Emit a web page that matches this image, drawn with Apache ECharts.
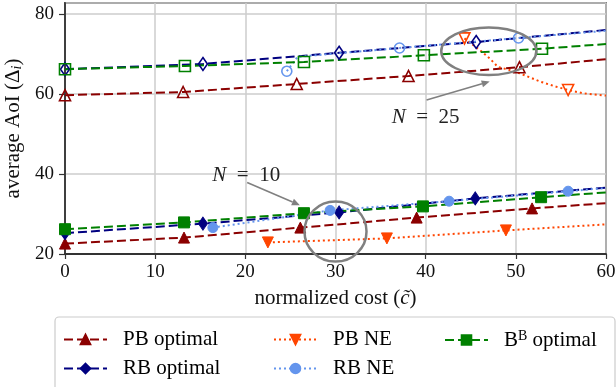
<!DOCTYPE html>
<html>
<head>
<meta charset="utf-8">
<title>average AoI vs normalized cost</title>
<script src="https://cdn.jsdelivr.net/npm/echarts@6/dist/echarts.min.js"></script>
<style>
  html, body { margin: 0; padding: 0; background: #ffffff; }
  #chart { width: 616px; height: 387px; }
</style>
</head>
<body>
<div id="chart"></div>
<script>
// x ticks / y ticks
const xTicks = [0, 10, 20, 30, 40, 50, 60]
const yTicks = [20, 40, 60, 80]

// N = 10 (filled markers). *X/*Y = points with a marker, *LineX/*LineY = points on the line only
const pbOpt10X = [0, 13.2, 26.1, 39.0, 51.8]
const pbOpt10Y = [22.6, 24.1, 26.6, 29.1, 31.4]
const pbOpt10LineX = [60]
const pbOpt10LineY = [32.7]

const rbOpt10X = [0, 15.3, 30.4, 45.5]
const rbOpt10Y = [25.2, 27.6, 30.4, 33.9]
const rbOpt10LineX = [60]
const rbOpt10LineY = [36.6]

const pbNe10X = [22.5, 35.7, 48.9]
const pbNe10Y = [22.9, 23.9, 25.9]
const pbNe10LineX = [60]
const pbNe10LineY = [27.4]

const rbNe10X = [16.4, 29.4, 42.6, 55.8]
const rbNe10Y = [26.6, 30.9, 33.2, 35.7]
const rbNe10LineX = [60]
const rbNe10LineY = [36.5]

const bbOpt10X = [0, 13.2, 26.5, 39.7, 52.8]
const bbOpt10Y = [26.2, 27.9, 30.2, 31.9, 34.2]
const bbOpt10LineX = [60]
const bbOpt10LineY = [35.4]

// N = 25 (hollow markers)
const pbOpt25X = [0, 13.1, 25.7, 38.1, 50.4]
const pbOpt25Y = [59.7, 60.5, 62.5, 64.5, 66.7]
const pbOpt25LineX = [60]
const pbOpt25LineY = [68.7]

const rbOpt25X = [0, 15.3, 30.4, 45.6]
const rbOpt25Y = [66.2, 67.5, 70.3, 73.0]
const rbOpt25LineX = [60]
const rbOpt25LineY = [76.0]

const pbNe25X = [44.3, 55.8]
const pbNe25Y = [73.9, 61.0]
const pbNe25LineX = [46.0, 47.1, 48.0, 49.3, 50.4, 52.7, 54.5, 57.4, 60]
const pbNe25LineY = [71.0, 68.9, 66.8, 66.0, 65.2, 63.1, 61.8, 60.2, 59.6]

const rbNe25X = [24.6, 37.1, 50.3]
const rbNe25Y = [65.7, 71.5, 74.0]
const rbNe25LineX = [25.8, 60]
const rbNe25LineY = [69.3, 75.8]

const bbOpt25X = [0, 13.3, 26.5, 39.8, 52.9]
const bbOpt25Y = [66.2, 67.0, 68.0, 69.7, 71.3]
const bbOpt25LineX = [60]
const bbOpt25LineY = [72.5]

// annotations (data coordinates)
const ringCenterX = [47.0, 30.0]
const ringCenterY = [70.7, 25.6]
const ringRadiusX = [5.27, 3.44]
const ringRadiusY = [5.94, 7.5]
const labelText = ['25', '10']
const labelX = [40.0, 20.1]
const labelY = [54.2, 39.7]
const arrowFrom = [[40.1, 58.5], [20.2, 37.9]]
const arrowTo = [[47.1, 63.1], [26.05, 32.2]]

const FONT = 'Liberation Serif, Times New Roman, serif'
const DASH = [9, 4]
const DOT = [2, 3]

function points(mx, my, lx, ly) {
  const a = mx.map((x, i) => ({ value: [x, my[i]] }))
  const b = lx.map((x, i) => ({ value: [x, ly[i]], symbol: 'none' }))
  return a.concat(b).sort((p, q) => p.value[0] - q.value[0])
}

function line(name, color, symbol, size, dash, filled, data, rotate) {
  return {
    name: name,
    type: 'line',
    data: data,
    symbol: symbol,
    symbolSize: size,
    symbolRotate: rotate || 0,
    showAllSymbol: true,
    animation: false,
    lineStyle: { color: color, width: 2, type: dash },
    itemStyle: filled
      ? { color: color, borderColor: color, borderWidth: 1 }
      : { color: 'rgba(255,255,255,0)', borderColor: color, borderWidth: 1.6 },
    emphasis: { disabled: true },
  }
}

const RED = '#8b0000', NAVY = '#000080', ORANGE = '#ff4500', BLUE = '#6495ed', GREEN = '#008000'

const series = [
  line('PB optimal', RED, 'triangle', 11, DASH, true, points(pbOpt10X, pbOpt10Y, pbOpt10LineX, pbOpt10LineY)),
  line('PB optimal 25', RED, 'triangle', 11, DASH, false, points(pbOpt25X, pbOpt25Y, pbOpt25LineX, pbOpt25LineY)),
  line('RB optimal', NAVY, 'diamond', [9, 13], DASH, true, points(rbOpt10X, rbOpt10Y, rbOpt10LineX, rbOpt10LineY)),
  line('RB optimal 25', NAVY, 'diamond', [9, 13], DASH, false, points(rbOpt25X, rbOpt25Y, rbOpt25LineX, rbOpt25LineY)),
  line('PB NE', ORANGE, 'triangle', 11, DOT, true, points(pbNe10X, pbNe10Y, pbNe10LineX, pbNe10LineY), 180),
  line('PB NE 25', ORANGE, 'triangle', 11, DOT, false, points(pbNe25X, pbNe25Y, pbNe25LineX, pbNe25LineY), 180),
  line('RB NE', BLUE, 'circle', 10, DOT, true, points(rbNe10X, rbNe10Y, rbNe10LineX, rbNe10LineY)),
  line('RB NE 25', BLUE, 'circle', 10, DOT, false, points(rbNe25X, rbNe25Y, rbNe25LineX, rbNe25LineY)),
  line('BB optimal', GREEN, 'rect', 11, DASH, true, points(bbOpt10X, bbOpt10Y, bbOpt10LineX, bbOpt10LineY)),
  line('BB optimal 25', GREEN, 'rect', 11, DASH, false, points(bbOpt25X, bbOpt25Y, bbOpt25LineX, bbOpt25LineY)),
]

const legendText = {
  color: '#000',
  fontFamily: FONT,
  fontSize: 21,
  rich: {
    t: { fontFamily: FONT, fontSize: 21, lineHeight: 22, padding: [0, 0, 0, 11], color: '#000' },
    n: { fontFamily: FONT, fontSize: 21, lineHeight: 22, color: '#000' },
    sup: { fontFamily: FONT, fontSize: 14, lineHeight: 8, verticalAlign: 'top', color: '#000' },
  },
}
function legendFmt(name) {
  if (name === 'BB optimal') return '{t|B}{sup|B}{n| optimal}'
  return '{t|' + name + '}'
}
function legendAt(left, names) {
  return {
    left: left, top: 329, orient: 'vertical', padding: 0,
    itemWidth: 43, itemHeight: 12, itemGap: 8,
    data: names, formatter: legendFmt, textStyle: legendText,
    selectedMode: false,
  }
}

const chart = echarts.init(document.getElementById('chart'), null, { renderer: 'canvas' })

chart.setOption({
  backgroundColor: '#ffffff',
  animation: false,
  grid: { left: 65, right: 10, top: 3, bottom: 133, outerBoundsMode: 'none', containLabel: false,
    show: true, borderColor: '#111', borderWidth: 1.4 },
  legend: [
    legendAt(63, ['PB optimal', 'RB optimal']),
    legendAt(273, ['PB NE', 'RB NE']),
    legendAt(444, ['BB optimal']),
  ],
  xAxis: {
    type: 'value',
    min: xTicks[0], max: xTicks[xTicks.length - 1], interval: xTicks[1] - xTicks[0],
    axisLine: { show: true, lineStyle: { color: '#333', width: 1.8 } },
    axisTick: { show: true, length: 5, lineStyle: { color: '#333', width: 1.2 } },
    axisLabel: { color: '#111', fontFamily: FONT, fontSize: 19, margin: 9 },
    splitLine: { show: true, lineStyle: { color: '#cccccc', width: 1.5 } },
    name: 'normalized cost ({i|c\u0303})',
    nameLocation: 'middle',
    nameGap: 34,
    nameTextStyle: {
      color: '#111', fontFamily: FONT, fontSize: 21,
      rich: { i: { fontFamily: FONT, fontSize: 21, fontStyle: 'italic', color: '#111' } },
    },
  },
  yAxis: {
    type: 'value',
    min: yTicks[0], max: 82.75, interval: yTicks[1] - yTicks[0],
    axisLine: { show: true, lineStyle: { color: '#333', width: 1.8 } },
    axisTick: { show: true, length: 6, lineStyle: { color: '#333', width: 1.2 } },
    axisLabel: { color: '#111', fontFamily: FONT, fontSize: 19, margin: 11, showMaxLabel: false,
      formatter: v => (yTicks.indexOf(v) >= 0 ? String(v) : '') },
    splitLine: { show: true, lineStyle: { color: '#cccccc', width: 1.5 } },
    name: 'average AoI (\u0394{sub|i})',
    nameLocation: 'middle',
    nameGap: 34,
    nameTextStyle: {
      color: '#111', fontFamily: FONT, fontSize: 21,
      rich: { sub: { fontFamily: FONT, fontSize: 14, fontStyle: 'italic', lineHeight: 12, verticalAlign: 'bottom', color: '#111' } },
    },
  },
  series: series,
})

// annotations: rings, arrows and N labels, placed through the grid's scales
function px(p) { return chart.convertToPixel({ gridIndex: 0 }, p) }
const graphics = [
  { type: 'rect', z: 0, shape: { x: 55, y: 317, width: 560, height: 80, r: 4 },
    style: { fill: '#ffffff', stroke: '#cccccc', lineWidth: 1.2 } },
]
ringCenterX.forEach((cx, i) => {
  const c = px([cx, ringCenterY[i]])
  const e = px([cx + ringRadiusX[i], ringCenterY[i] + ringRadiusY[i]])
  graphics.push({ type: 'ellipse', z: 50,
    shape: { cx: c[0], cy: c[1], rx: Math.abs(e[0] - c[0]), ry: Math.abs(e[1] - c[1]) },
    style: { fill: 'none', stroke: '#808080', lineWidth: 2.5 } })
})
arrowFrom.forEach((f, i) => {
  const a = px(f), b = px(arrowTo[i])
  const ang = Math.atan2(b[1] - a[1], b[0] - a[0])
  const L = 8, W = 3.5
  const bx = b[0] - L * Math.cos(ang), by = b[1] - L * Math.sin(ang)
  graphics.push({ type: 'line', z: 50, shape: { x1: a[0], y1: a[1], x2: bx, y2: by },
    style: { stroke: '#808080', lineWidth: 1.6 } })
  graphics.push({ type: 'polygon', z: 50,
    shape: { points: [b, [bx - W * Math.sin(ang), by + W * Math.cos(ang)], [bx + W * Math.sin(ang), by - W * Math.cos(ang)]] },
    style: { fill: '#808080' } })
})
labelText.forEach((t, i) => {
  const p = px([labelX[i], labelY[i]])
  graphics.push({ type: 'text', z: 50, x: p[0], y: p[1],
    style: { text: '{i|N}\u2002=\u2002' + t, fill: '#222', font: '21px ' + FONT, align: 'center', verticalAlign: 'middle',
      rich: { i: { fontFamily: FONT, fontSize: 21, fontStyle: 'italic', fill: '#222' } } } })
})
chart.setOption({ graphic: graphics })

window.onresize = function () {
  chart.resize()
}
</script>
</body>
</html>
